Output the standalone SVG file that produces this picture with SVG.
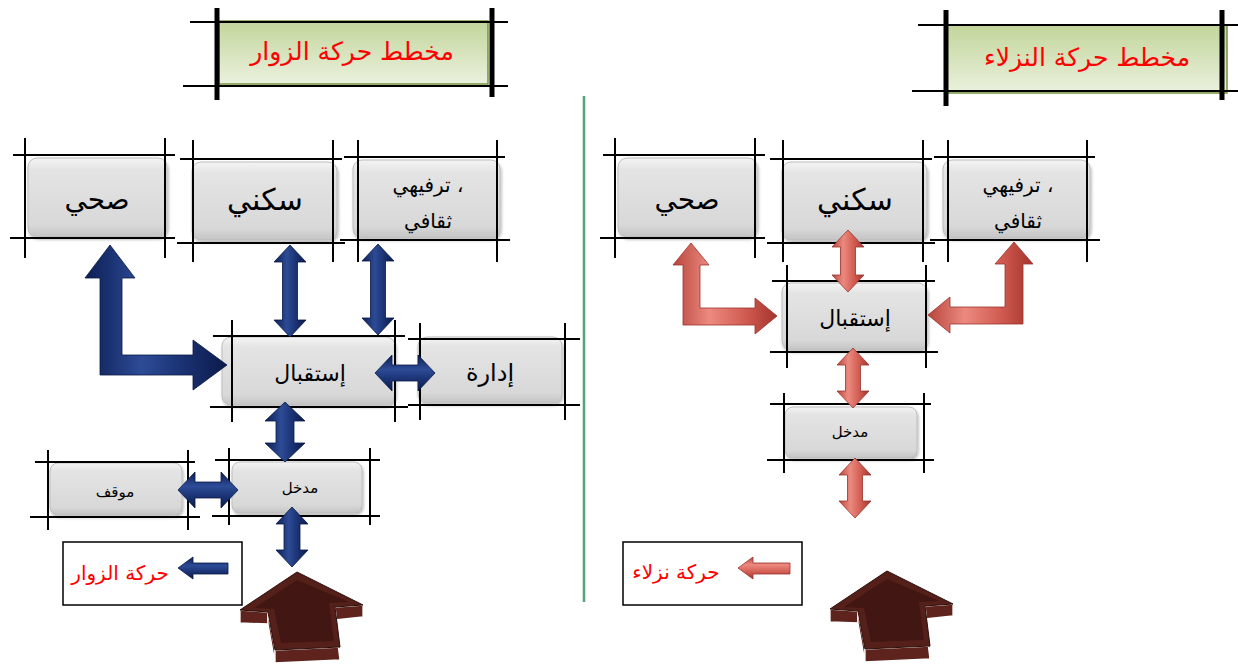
<svg xmlns="http://www.w3.org/2000/svg" width="1238" height="666" viewBox="0 0 1238 666">
<defs>
<linearGradient id="boxG" x1="0" y1="0" x2="0" y2="1">
<stop offset="0" stop-color="#f4f4f4"/><stop offset="0.15" stop-color="#e4e4e4"/><stop offset="0.85" stop-color="#d8d8d8"/><stop offset="1" stop-color="#c4c4c4"/>
</linearGradient>
<linearGradient id="titleG" x1="0" y1="0" x2="0" y2="1">
<stop offset="0" stop-color="#c2d59a"/><stop offset="1" stop-color="#ebf1de"/>
</linearGradient>
<linearGradient id="blueV" x1="0" y1="0" x2="1" y2="0">
<stop offset="0" stop-color="#0d1f55"/><stop offset="0.4" stop-color="#2d4b96"/><stop offset="0.65" stop-color="#1c3577"/><stop offset="1" stop-color="#0b1a4a"/>
</linearGradient>
<linearGradient id="blueH" x1="0" y1="0" x2="0" y2="1">
<stop offset="0" stop-color="#0d1f55"/><stop offset="0.4" stop-color="#2d4b96"/><stop offset="0.65" stop-color="#1c3577"/><stop offset="1" stop-color="#0b1a4a"/>
</linearGradient>
<linearGradient id="redV" x1="0" y1="0" x2="1" y2="0">
<stop offset="0" stop-color="#b8453d"/><stop offset="0.35" stop-color="#ec8a7f"/><stop offset="0.7" stop-color="#d05a50"/><stop offset="1" stop-color="#a3342d"/>
</linearGradient>
<linearGradient id="redH" x1="0" y1="0" x2="0" y2="1">
<stop offset="0" stop-color="#b8453d"/><stop offset="0.35" stop-color="#ec8a7f"/><stop offset="0.7" stop-color="#d05a50"/><stop offset="1" stop-color="#a3342d"/>
</linearGradient>
<filter id="sh" x="-10%" y="-10%" width="130%" height="140%">
<feDropShadow dx="1" dy="2" stdDeviation="1.5" flood-color="#000" flood-opacity="0.3"/>
</filter>
<g id="bigArrow">
<g fill="#5e231c" stroke="#fff" stroke-width="1.3" stroke-linejoin="round">
<polygon points="240,610 268,612 268,624 240,623"/>
<polygon points="268,612 275,650 275,663 268,624"/>
<polygon points="275,650 340,647 340,660 275,663"/>
<polygon points="335,607 363,605 363,617 335,620"/>
<polygon points="335,607 340,647 340,660 335,620"/>
</g>
<polygon points="297,572 240,610 268,612 275,650 340,647 335,607 363,605" fill="#55201a" stroke="#2a0c09" stroke-width="1"/>
<polygon points="297,580 254,608 274,609 281,643 334,641 329,603 349,602" fill="#421612"/>
</g>
</defs>
<style>
.box{fill:url(#boxG);stroke:#bdbdbd;stroke-width:1;filter:url(#sh)}
.ttl{fill:url(#titleG);stroke:#76923c;stroke-width:1.5}
.ln{stroke:#000;stroke-width:2;fill:none}
.bar{stroke:#000;stroke-width:5;fill:none}
.t{font-family:"DejaVu Sans",sans-serif;fill:#000;text-anchor:middle}
.tr{font-family:"DejaVu Sans",sans-serif;fill:#ff0000;text-anchor:middle}
.bv{fill:url(#blueV);stroke:#0a1945;stroke-width:0.8}
.bh{fill:url(#blueH);stroke:#0a1945;stroke-width:0.8}
.rv{fill:url(#redV);stroke:#9a322b;stroke-width:0.8}
.rh{fill:url(#redH);stroke:#9a322b;stroke-width:0.8}
</style>
<rect width="1238" height="666" fill="#fff"/>

<line x1="584" y1="96" x2="584" y2="602" stroke="#4fa57a" stroke-width="2.5"/>

<g id="title-left">
<rect class="ttl" x="219" y="21" width="269" height="63"/>
<line class="ln" x1="190" y1="22" x2="508" y2="22"/>
<line class="ln" x1="183" y1="86" x2="508" y2="86"/>
<line class="bar" x1="217" y1="8" x2="217" y2="100"/>
<line class="bar" x1="492" y1="8" x2="492" y2="97"/>
<text class="tr" x="352" y="60" font-size="25">مخطط حركة الزوار</text>
</g>
<g id="title-right">
<rect class="ttl" x="947" y="25" width="280" height="68"/>
<line class="ln" x1="918" y1="25" x2="1238" y2="25"/>
<line class="ln" x1="912" y1="91" x2="1238" y2="91"/>
<line class="bar" x1="946" y1="10" x2="946" y2="106"/>
<line class="bar" x1="1222" y1="10" x2="1222" y2="100"/>
<text class="tr" x="1087" y="66" font-size="25">مخطط حركة النزلاء</text>
</g>

<g id="L-sihhi">
<rect class="box" x="28" y="158" width="139" height="79" rx="9"/>
<line class="ln" x1="13" y1="155" x2="175" y2="155"/><line class="ln" x1="10" y1="238" x2="175" y2="238"/>
<line class="ln" x1="25" y1="138" x2="25" y2="258"/><line class="ln" x1="165" y1="138" x2="165" y2="258"/>
<text class="t" x="97" y="209" font-size="28">صحي</text>
</g>
<g id="L-sakani">
<rect class="box" x="192" y="162" width="145" height="78" rx="9"/>
<line class="ln" x1="180" y1="159" x2="342" y2="159"/><line class="ln" x1="177" y1="243" x2="345" y2="243"/>
<line class="ln" x1="193" y1="140" x2="193" y2="262"/><line class="ln" x1="333" y1="140" x2="333" y2="262"/>
<text class="t" x="265" y="210" font-size="30">سكني</text>
</g>
<g id="L-tarfihi">
<rect class="box" x="353" y="160" width="147" height="78" rx="9"/>
<line class="ln" x1="344" y1="157" x2="505" y2="157"/><line class="ln" x1="340" y1="240" x2="510" y2="240"/>
<line class="ln" x1="358" y1="140" x2="358" y2="262"/><line class="ln" x1="497" y1="140" x2="497" y2="262"/>
<text class="t" x="428" y="192" font-size="20">ترفيهي ،</text>
<text class="t" x="428" y="228" font-size="20">ثقافي</text>
</g>
<g id="L-istiqbal">
<rect class="box" x="222" y="337" width="173" height="68" rx="9"/>
<line class="ln" x1="213" y1="336" x2="405" y2="336"/><line class="ln" x1="210" y1="407" x2="408" y2="407"/>
<line class="ln" x1="232" y1="320" x2="232" y2="422"/><line class="ln" x1="395" y1="320" x2="395" y2="422"/>
<text class="t" x="310" y="381" font-size="22">إستقبال</text>
</g>
<g id="L-idara">
<rect class="box" x="418" y="337" width="144" height="66" rx="9"/>
<line class="ln" x1="408" y1="339" x2="580" y2="339"/><line class="ln" x1="408" y1="405" x2="580" y2="405"/>
<line class="ln" x1="420" y1="323" x2="420" y2="420"/><line class="ln" x1="565" y1="323" x2="565" y2="420"/>
<text class="t" x="490" y="381" font-size="24">إدارة</text>
</g>
<g id="L-madkhal">
<rect class="box" x="232" y="462" width="130" height="51" rx="8"/>
<line class="ln" x1="215" y1="460" x2="380" y2="460"/><line class="ln" x1="212" y1="516" x2="380" y2="516"/>
<line class="ln" x1="229" y1="448" x2="229" y2="525"/><line class="ln" x1="370" y1="448" x2="370" y2="525"/>
<text class="t" x="300" y="493" font-size="15">مدخل</text>
</g>
<g id="L-mawqif">
<rect class="box" x="50" y="463" width="132" height="52" rx="8"/>
<line class="ln" x1="35" y1="462" x2="195" y2="462"/><line class="ln" x1="30" y1="517" x2="200" y2="517"/>
<line class="ln" x1="48" y1="450" x2="48" y2="530"/><line class="ln" x1="188" y1="450" x2="188" y2="530"/>
<text class="t" x="115" y="497" font-size="15">موقف</text>
</g>
<g id="L-legend">
<rect x="63" y="542" width="179" height="63" fill="#fff" stroke="#000" stroke-width="1.5"/>
<text class="tr" x="120" y="580" font-size="20">حركة الزوار</text>
<polygon class="bh" points="178,568 193,557 193,563 228,563 228,574 193,574 193,579"/>
</g>

<g id="R-sihhi">
<rect class="box" x="618" y="158" width="139" height="79" rx="9"/>
<line class="ln" x1="603" y1="155" x2="765" y2="155"/><line class="ln" x1="600" y1="238" x2="765" y2="238"/>
<line class="ln" x1="615" y1="138" x2="615" y2="258"/><line class="ln" x1="755" y1="138" x2="755" y2="258"/>
<text class="t" x="687" y="209" font-size="28">صحي</text>
</g>
<g id="R-sakani">
<rect class="box" x="782" y="162" width="145" height="78" rx="9"/>
<line class="ln" x1="770" y1="159" x2="932" y2="159"/><line class="ln" x1="767" y1="243" x2="935" y2="243"/>
<line class="ln" x1="783" y1="140" x2="783" y2="262"/><line class="ln" x1="923" y1="140" x2="923" y2="262"/>
<text class="t" x="855" y="210" font-size="30">سكني</text>
</g>
<g id="R-tarfihi">
<rect class="box" x="943" y="160" width="147" height="78" rx="9"/>
<line class="ln" x1="934" y1="157" x2="1095" y2="157"/><line class="ln" x1="930" y1="240" x2="1100" y2="240"/>
<line class="ln" x1="948" y1="140" x2="948" y2="262"/><line class="ln" x1="1087" y1="140" x2="1087" y2="262"/>
<text class="t" x="1018" y="192" font-size="20">ترفيهي ،</text>
<text class="t" x="1018" y="228" font-size="20">ثقافي</text>
</g>
<g id="R-istiqbal">
<rect class="box" x="782" y="283" width="145" height="67" rx="9"/>
<line class="ln" x1="772" y1="281" x2="935" y2="281"/><line class="ln" x1="770" y1="352" x2="938" y2="352"/>
<line class="ln" x1="787" y1="265" x2="787" y2="368"/><line class="ln" x1="926" y1="265" x2="926" y2="368"/>
<text class="t" x="855" y="326" font-size="22">إستقبال</text>
</g>
<g id="R-madkhal">
<rect class="box" x="785" y="407" width="132" height="51" rx="8"/>
<line class="ln" x1="770" y1="404" x2="931" y2="404"/><line class="ln" x1="767" y1="460" x2="934" y2="460"/>
<line class="ln" x1="784" y1="393" x2="784" y2="473"/><line class="ln" x1="924" y1="393" x2="924" y2="473"/>
<text class="t" x="850" y="437" font-size="15">مدخل</text>
</g>
<g id="R-legend">
<rect x="623" y="542" width="179" height="63" fill="#fff" stroke="#000" stroke-width="1.5"/>
<text class="tr" x="676" y="579" font-size="20">حركة نزلاء</text>
<polygon class="rh" points="738,568 753,557 753,563 790,563 790,574 753,574 753,579"/>
</g>

<g id="connectors">
<polygon class="bv" points="110,245 135,278 122,278 122,355 193,355 193,340 227,365 193,390 193,375 100,375 100,278 85,278"/>
<polygon class="bv" points="290,245 306,262 297.5,262 297.5,320 306,320 290,337 274,320 282.5,320 282.5,262 274,262"/>
<polygon class="bv" points="378,244 394,261 385.5,261 385.5,318 394,318 378,335 362,318 370.5,318 370.5,261 362,261"/>
<polygon class="bh" points="375,373 392,355 392,365 418,365 418,355 435,373 418,391 418,381 392,381 392,391"/>
<polygon class="bv" points="285,402 305,421 294,421 294,443 305,443 285,462 265,443 276,443 276,421 265,421"/>
<polygon class="bh" points="178,490 195,472 195,482 221,482 221,472 238,490 221,508 221,498 195,498 195,508"/>
<polygon class="bv" points="292,507 308,524 300,524 300,550 308,550 292,567 276,550 284,550 284,524 276,524"/>

<polygon class="rv" points="691,243 709,265 700,265 700,308 755,308 755,298 777,316 755,334 755,325 683,325 683,265 673,265"/>
<polygon class="rv" points="1014,242 1033,264 1023,264 1023,324 950,324 950,333 928,315 950,297 950,307 1005,307 1005,264 995,264"/>
<polygon class="rv" points="848,230 864,247 855.5,247 855.5,275 864,275 848,292 832,275 840.5,275 840.5,247 832,247"/>
<polygon class="rv" points="853,348 869,365 860.5,365 860.5,391 869,391 853,408 837,391 845.5,391 845.5,365 837,365"/>
<polygon class="rv" points="855,458 871,475 862.5,475 862.5,501 871,501 855,518 839,501 847.5,501 847.5,475 839,475"/>

<use href="#bigArrow"/>
<use href="#bigArrow" transform="translate(590,-1)"/>
</g>
</svg>
